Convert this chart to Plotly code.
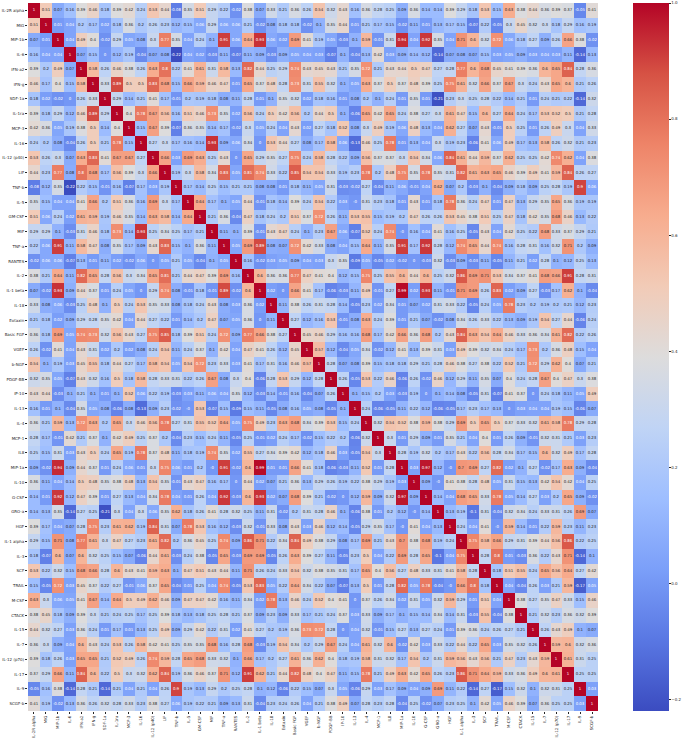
import plotly.graph_objects as go

labels = ["IL-2R alpha","MIG","MIP-1b","IL-6","IFN-a2","IFN-g","SDF-1a","IL-1ra","MCP-3","IL-16","IL-12 (p40)","LIF","TNF-b","IL-5","GM-CSF","MIF","TNF-a","RANTES","IL-2","IL-1 beta","IL-18","Eotaxin","Basic FGF","VGEF","b-NGF","PDGF-BB","IP-10","IL-13","IL-4","MCP-1","IL8","MIP-1a","IL-10","G-CSF","GRO-a","HGF","IL-1 alpha","IL-3","SCF","TRAIL","M-CSF","CTACK","IL-15","IL-7","IL-12 (p70)","IL-17","IL-9","SCGF-b"]

# Upper triangle of the correlation matrix: each list starts just right of the diagonal
r00 = [.51,.07,.16,.39,.46,.18,.39,.42,.24,.53,.44,-.08,.35,.51,.29,.22,-.02,.38,.07,.33,.21,.36,.26,.54,.32,.43,.16,.36,.28,.25,.09,.36,.14,.14,.39,.29,.18,.53,.15,.63,.38,.44,.36,.39,.37,-.05,.41]
r01 = [.01,.04,.2,.17,.02,.18,.36,.2,.26,.23,.12,.15,.06,.29,.06,.06,.21,-.02,.08,.18,.18,-.02,.1,.35,.44,.01,.21,.17,.15,-.02,.11,.01,.13,.17,.15,-.07,.22,-.05,.3,.45,.32,.3,.18,.29,.16,.19]
r02 = [.04,.49,.4,-.02,.29,.05,.08,.3,.77,.35,.04,.24,.1,.91,.06,.64,.93,.06,.02,.69,.41,.19,.05,-.03,.1,.59,-.01,.31,.94,.04,.92,.35,.04,.71,.6,.32,.72,.06,.18,.27,.09,.26,.66,.38,-.02]
r03 = [.07,.15,0,.12,.19,-.04,.07,.08,-.22,.04,.02,-.03,.11,-.07,.11,.09,-.03,.09,.05,.04,.03,-.07,.1,-.04,.13,.42,.03,.09,.14,.12,-.14,.07,.08,.07,.15,.03,.05,.09,.03,.04,.03,.11,-.14,.13]
r04 = [.58,.26,.46,.38,.26,.63,.8,.22,.41,.61,.31,.58,.13,.82,.44,.25,.29,.74,.43,.45,.43,.21,.35,.72,.21,.43,.44,.5,.47,.27,.28,.77,.6,.68,.45,.41,.39,.36,.6,.65,.84,.28,.36]
r05 = [.33,.89,.5,.5,.83,.68,.15,.66,.59,.46,.47,.01,.65,.37,.48,.28,.73,.31,.55,.32,.1,.05,.63,.37,.5,.37,.48,.39,.25,.75,.61,.32,.66,.37,.67,.3,.24,.43,.65,.6,.21,.26]
r06 = [.29,.14,.21,.41,.17,-.01,.2,.19,.18,.08,.11,.28,.01,.1,.35,.32,.02,.18,.16,.01,.08,.2,.1,.24,.01,.35,.01,-.21,.23,.3,.25,.28,.22,.14,.21,.01,.24,.21,.22,-.14,.32]
r07 = [.4,.78,.67,.56,.16,.51,.46,.73,.35,.02,.56,.24,.5,.42,.56,.2,.44,.5,.1,-.06,.65,.42,.65,.24,.38,.27,.3,.61,.47,.15,.6,.27,.64,.24,.17,.53,.52,.5,.21,.28]
r08 = [.15,.67,.39,-.07,.36,.35,.14,.17,-.02,.3,.05,.24,.04,.43,.02,.27,.18,.52,.08,.3,.49,.19,.06,.48,.13,.04,.62,.27,.07,.43,-.01,.5,.25,.01,.26,.49,.3,.04,.33]
r09 = [.27,.3,.17,.16,.14,.93,.09,.06,.34,0,.53,.44,.27,.08,.17,.58,.06,-.13,.46,.25,.78,.01,.13,.04,.3,.19,.23,-.06,.41,.06,.49,.17,.13,.58,.26,.32,.21,.23]
r10 = [.66,.03,.69,.63,.25,.43,0,.65,.29,.35,.27,.75,.24,.58,.28,.22,.09,.56,.37,.37,.3,.54,.34,.06,.84,.61,.44,.59,.37,.62,.25,.25,.42,.74,.62,.04,.38]
r11 = [.19,.3,.58,.34,.83,.05,.81,.74,.33,.22,.85,.54,.54,.33,.19,.23,.78,.2,.48,.75,.35,.78,.35,.31,.82,.61,.63,.65,.46,.39,.49,.41,.59,.84,.26,.27]
r12 = [.17,.14,.25,.15,.21,.21,.08,.08,.01,.18,.11,.05,.31,-.03,-.02,.27,-.04,.11,.06,-.01,.04,.62,.07,.2,-.03,.1,-.04,.09,.18,.09,.25,.28,.19,.9,.06]
r13 = [.64,.17,.1,.05,.44,-.01,.18,.14,.39,.24,.54,.22,.03,-0.0,.31,.23,.18,.01,.43,.01,.18,.78,.36,.24,.47,.01,.47,.13,.29,.35,.65,.36,.19,.19]
r14 = [.21,.36,-.04,.47,.18,.24,.2,.51,.37,.72,.26,.11,.53,.55,.15,.19,.2,.47,.26,.26,.53,.45,.38,.51,.25,.47,.18,.42,.35,.68,.46,.13,.22]
r15 = [.11,.1,.39,-.01,.43,.47,.24,.1,.23,.67,.06,-.07,.52,.24,.74,-0.0,.16,.04,.41,.16,.25,-.05,.43,.04,.42,.25,.22,.68,.33,.37,.29,.21]
r16 = [.05,.69,.89,.08,.07,.72,.42,.33,.08,.04,.15,.64,.11,.35,.91,.17,.92,.28,.12,.74,.65,.44,.74,.16,.28,.31,.16,.32,.71,.2,.09]
r17 = [.16,-.02,.03,.05,.09,.04,.03,.3,.35,-.09,.05,-.05,.02,-.02,0,-.03,.32,-.03,.09,-.03,.11,-.05,.11,.21,.02,.28,.1,.12,.25,.13]
r18 = [.6,.36,.36,.77,.47,.41,.4,.12,.15,.75,.25,.55,.6,.44,.6,.25,.32,.86,.69,.71,.53,.34,.37,.41,.68,.66,.91,.28,.31]
r19 = [.02,0,.66,.41,.17,-.06,-.03,.11,.49,-.01,.27,.99,.02,.93,.11,-.01,.71,.69,.26,.83,.02,.09,.27,-.03,.17,.62,.1,-.04]
r20 = [.11,.38,.26,.31,.28,.14,-.05,.23,.02,.34,.01,.07,.02,.31,.33,.22,-.05,.24,.05,.78,.23,.2,.19,.2,.21,.12,.23]
r21 = [.27,.12,.16,.53,-.01,.08,.63,.24,.39,.01,.21,.07,-.02,.08,.34,.26,.33,.22,.13,.09,.19,.54,.27,.44,-.06,.24]
r22 = [.45,.46,.29,.16,.16,.68,.17,.42,.66,.36,.68,.2,.43,.84,.63,.54,.64,.46,.33,.36,.34,.61,.82,.22,.26]
r23 = [.57,.12,-.04,.05,.34,-.02,.12,.41,.13,.39,.31,.03,.49,.39,.32,.34,.24,.17,.73,.2,.36,.48,.15,.04]
r24 = [.28,.07,.08,.39,.15,.18,.18,.29,.21,.28,.46,.38,.27,.38,.22,.52,.21,.72,.29,.62,.4,.07,.21]
r25 = [.26,-.05,.53,.22,.46,-.06,.26,-.02,.46,.12,.29,.11,.35,.07,.4,.24,.28,.67,.4,.47,.3,.38]
r26 = [.1,.15,.2,.03,-.03,.19,0,.1,.14,.08,-.05,.31,-.07,.41,.37,0,.24,.18,.11,.05,.49]
r27 = [.24,-.06,-.05,.11,.22,.12,-.06,-.05,.17,.23,.17,.13,0,.03,.04,.04,.19,.15,-.06,.07]
r28 = [.32,.54,.52,.38,.59,.38,.29,.69,.5,.65,.5,.37,.33,.32,.61,.58,.78,.29,.28]
r29 = [.3,.01,.29,.09,.01,.35,.21,.04,.4,.01,.26,.09,-.01,.32,.31,.21,.03,.23]
r30 = [.28,.19,.32,.2,.17,.43,.22,.56,.28,.34,.17,.15,.6,.32,.49,.17,.28]
r31 = [.03,.97,.12,-0.0,.7,.69,.27,.82,.02,.1,.27,-.02,.17,.63,.09,-.04]
r32 = [.09,-0.0,.41,.38,.28,.48,.05,.31,.15,.13,.42,.54,.42,.04,.25]
r33 = [.14,.04,.68,.65,.33,.78,.05,.14,.27,.03,.2,.65,.09,-.02]
r34 = [.13,.19,-.1,.31,-.04,.32,.34,.24,.33,.31,.26,.69,.07]
r35 = [.24,.04,.41,-0.0,.59,.14,.01,.22,.59,.23,.11,.23]
r36 = [.75,.58,.66,.29,.31,.39,.44,.56,.86,.22,.25]
r37 = [.28,.8,.01,-.03,.36,.22,.43,.71,-.14,.1]
r38 = [.18,.51,.55,.24,.65,.56,.64,.27,.42]
r39 = [.04,-.04,.26,.03,.21,.59,-.17,.05]
r40 = [.38,.27,.35,.47,.33,.15,.46]
r41 = [.21,.32,.23,.36,.32,.39]
r42 = [.26,.43,.49,.1,.07]
r43 = [.59,.6,.32,.36]
r44 = [.61,.31,.25]
r45 = [.25,.25]
r46 = [.03]

upper = [r00,r01,r02,r03,r04,r05,r06,r07,r08,r09,r10,r11,r12,r13,r14,r15,r16,r17,r18,r19,r20,r21,r22,r23,
         r24,r25,r26,r27,r28,r29,r30,r31,r32,r33,r34,r35,r36,r37,r38,r39,r40,r41,r42,r43,r44,r45,r46]

n = len(labels)
z = [[1.0] * n for _ in range(n)]
for i, row in enumerate(upper):
    for k, v in enumerate(row):
        z[i][i + 1 + k] = v
        z[i + 1 + k][i] = v


def is_light_text(v):
    return v <= 0.06 or v >= 0.72


text_dark = [[("" if is_light_text(v) else f"{v:.2g}") for v in row] for row in z]
text_light = [[(f"{v:.2g}" if is_light_text(v) else "") for v in row] for row in z]
z_light = [[(v if is_light_text(v) else None) for v in row] for row in z]

coolwarm = ['#3b4cc0','#5977e3','#7b9ff9','#9ebeff','#c0d4f5','#dddcdc','#f2cbb7','#f7ac8e','#ee8468','#d65244','#b40426']
scale = [[i / 10, c] for i, c in enumerate(coolwarm)]

W, H = 685, 740
L, R, T, B = 28.3, 599.7, 3.0, 711.0
cb_left = 635.0
cb_w = 35.7

cb_ticks = [-0.2, 0.0, 0.2, 0.4, 0.6, 0.8, 1.0]
CELL_FONT = 3.9
TICK_FONT = 4.0

fig = go.Figure()
fig.add_trace(go.Heatmap(
    z=z, x=labels, y=labels, text=text_dark, texttemplate="%{text}",
    textfont=dict(size=CELL_FONT, family="DejaVu Sans", color="#262626"),
    colorscale=scale, zmin=-0.22, zmax=1.0,
    colorbar=dict(
        x=(cb_left - L) / (R - L), xanchor="left", xpad=0, ypad=0,
        y=0.5, yanchor="middle", len=1, lenmode="fraction",
        thickness=cb_w, thicknessmode="pixels", outlinewidth=0,
        tickmode="array", tickvals=cb_ticks, ticktext=[f"{t:.1f}".replace("-", "\u2212") for t in cb_ticks],
        ticks="outside", ticklen=2, tickwidth=0.5, tickcolor="#262626",
        tickfont=dict(size=TICK_FONT, family="DejaVu Sans", color="#262626"),
    ),
))
fig.add_trace(go.Heatmap(
    z=z_light, x=labels, y=labels, text=text_light, texttemplate="%{text}",
    textfont=dict(size=CELL_FONT, family="DejaVu Sans", color="white"),
    colorscale=scale, zmin=-0.22, zmax=1.0, showscale=False, hoverongaps=False,
))
fig.update_layout(
    width=W, height=H, autosize=False,
    margin=dict(l=L, r=W - R, t=T, b=H - B, pad=0),
    paper_bgcolor="white", plot_bgcolor="white",
    font=dict(family="DejaVu Sans", color="#262626"),
)
fig.update_xaxes(tickmode="array", tickvals=labels, ticktext=labels, tickangle=-90,
                 ticks="outside", ticklen=2, tickwidth=0.5, tickcolor="#262626",
                 tickfont=dict(size=TICK_FONT), showgrid=False, zeroline=False, showline=False,
                 automargin=False)
fig.update_yaxes(tickmode="array", tickvals=labels, ticktext=labels, autorange="reversed",
                 ticks="outside", ticklen=2, tickwidth=0.5, tickcolor="#262626",
                 tickfont=dict(size=TICK_FONT), showgrid=False, zeroline=False, showline=False,
                 automargin=False)

fig.write_html("out.html", config={"displayModeBar": False},
               post_script="document.body.style.margin='0';")
